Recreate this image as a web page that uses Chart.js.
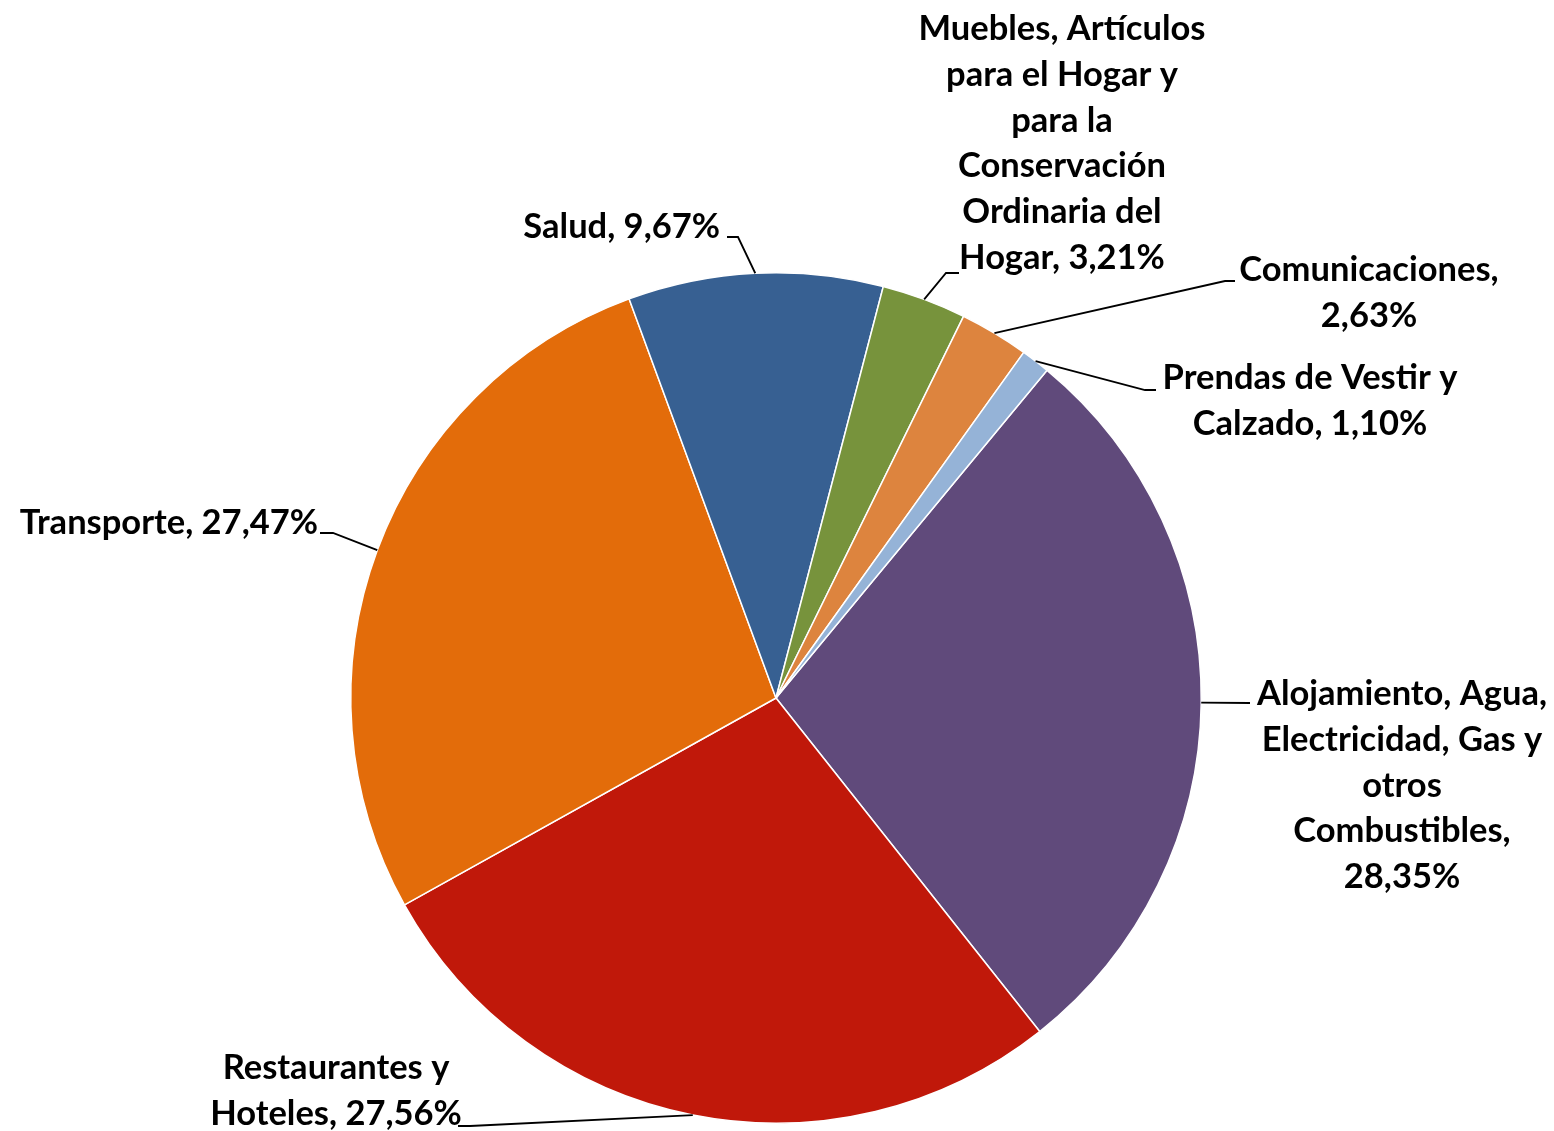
<!DOCTYPE html>
<html>
<head>
<meta charset="utf-8">
<script src="https://cdn.jsdelivr.net/npm/chart.js@4.4.1/dist/chart.umd.min.js"></script>
<style>
html,body{margin:0;padding:0;background:#fff;}
#wrap{position:relative;width:1554px;height:1131px;}
</style>
</head>
<body>
<div id="wrap"><canvas id="c" width="1554" height="1131"></canvas></div>
<script>
// ---- data ----
const categories = [
  ["Alojamiento, Agua,", "Electricidad, Gas y", "otros", "Combustibles,"],
  ["Restaurantes y", "Hoteles,"],
  ["Transporte,"],
  ["Salud,"],
  ["Muebles, Artículos", "para el Hogar y", "para la", "Conservación", "Ordinaria del", "Hogar,"],
  ["Comunicaciones,"],
  ["Prendas de Vestir y", "Calzado,"]
];
const values = [28.35, 27.56, 27.47, 9.67, 3.21, 2.63, 1.10];
const colors = ["#604A7B", "#C0180A", "#E36C0A", "#376092", "#77933C", "#DD843E", "#95B3D7"];

// ---- label layout (offsets from pie centre, px) ----
const labelLayout = [
  {tx: 626, ty: -4, ly: 5, ex: 474, ax: 474, align: 'center', own: true},
  {tx: -440, ty: 370, ly: 428, ex: -306, ax: -318, align: 'center', own: false},
  {tx: -458, ty: -175, ly: -165, ex: -443, ax: -456, align: 'right', own: false},
  {tx: -56, ty: -471, ly: -461, ex: -38, ax: -49, align: 'right', own: false},
  {tx: 286, ty: -669, ly: -425, ex: 170, ax: 183, align: 'center', own: false},
  {tx: 593, ty: -428, ly: -417, ex: 449, ax: 459, align: 'center', own: true},
  {tx: 534, ty: -320, ly: -308, ex: 369, ax: 380, align: 'center', own: false}
];
const LINE_H = 45.7;

function fmt(v){ return v.toFixed(2).replace('.', ',') + '%'; }

const FONT_FAMILY = 'Lato, "Open Sans", sans-serif';
let fontSize = 36;
(function fit(){
  const m = document.createElement('canvas').getContext('2d');
  m.font = 'bold 100px ' + FONT_FAMILY;
  const w = m.measureText('Transporte, 27,47%').width;
  fontSize = Math.round(100 * 298 / w * 10) / 10;
})();

const labelPlugin = {
  id: 'pieLabels',
  afterDatasetsDraw(chart){
    const ctx = chart.ctx;
    const meta = chart.getDatasetMeta(0);
    ctx.save();
    ctx.font = 'bold ' + fontSize + 'px ' + FONT_FAMILY;
    ctx.fillStyle = '#000';
    ctx.strokeStyle = '#000';
    ctx.lineWidth = 1.8;
    ctx.textBaseline = 'middle';
    meta.data.forEach((arc, i) => {
      const p = arc.getProps(['x','y','startAngle','endAngle','outerRadius'], true);
      const mid = (p.startAngle + p.endAngle) / 2;
      const sx = p.x + Math.cos(mid) * p.outerRadius;
      const sy = p.y + Math.sin(mid) * p.outerRadius;
      const L = labelLayout[i];
      ctx.beginPath();
      ctx.moveTo(sx, sy);
      ctx.lineTo(p.x + L.ex, p.y + L.ly);
      ctx.lineTo(p.x + L.ax, p.y + L.ly);
      ctx.stroke();
      const lines = categories[i].slice();
      const val = fmt(values[i]);
      if (L.own) lines.push(val); else lines[lines.length-1] = lines[lines.length-1] + ' ' + val;
      ctx.textAlign = L.align;
      lines.forEach((t, k) => {
        ctx.fillText(t, p.x + L.tx, p.y + L.ty + k * LINE_H);
      });
    });
    ctx.restore();
  }
};

new Chart(document.getElementById('c'), {
  type: 'pie',
  data: {
    labels: categories.map(c => c.join(' ')),
    datasets: [{
      data: values,
      backgroundColor: colors,
      borderColor: '#ffffff',
      borderWidth: 1.5,
      hoverOffset: 0
    }]
  },
  options: {
    responsive: false,
    animation: false,
    rotation: 39.6,
    layout: { padding: { left: 350, right: 352, top: 272, bottom: 7 } },
    plugins: { legend: { display: false }, tooltip: { enabled: false } }
  },
  plugins: [labelPlugin]
});
</script>
</body>
</html>
